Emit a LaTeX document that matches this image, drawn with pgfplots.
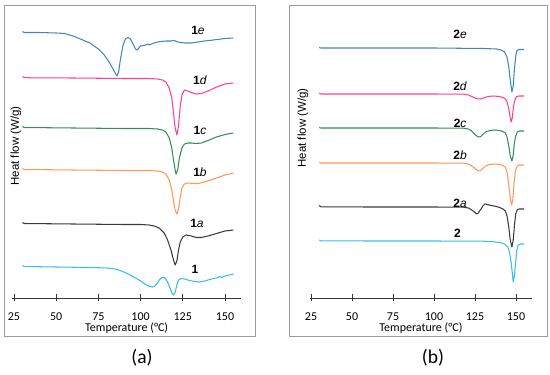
\documentclass[border=0pt]{standalone}
\usepackage{pgfplots}
\pgfplotsset{compat=1.18}
\usepackage{fontspec}
\setmainfont{Carlito}
\newfontfamily\arialf{Liberation Sans}
\definecolor{cblue}{HTML}{3F86C0}
\definecolor{cpink}{HTML}{FF3F93}
\definecolor{cgreen}{HTML}{2F8F55}
\definecolor{corange}{HTML}{FF965A}
\definecolor{cblack}{HTML}{3A3A3A}
\definecolor{ccyan}{HTML}{35BDEF}
\definecolor{cframe}{HTML}{9A9A9A}
\pgfplotsset{dsc/.style={
  scale only axis, axis x line*=bottom, axis y line=none,
  ymin=0, ymax=293, height=293pt,
  xtick={25,50,...,150},
  tick align=center, major tick length=7pt,
  every tick/.style={line width=0.9pt, color=black!80},
  x axis line style={line width=0.9pt, black!80},
  tick label style={font=\fontsize{12}{14}\selectfont},
  /pgf/number format/assume math mode=true,
  xticklabel style={anchor=center, yshift=-15.5pt},
  xlabel={Temperature (°C)},
  xlabel style={font=\fontsize{12}{14}\selectfont, at={(axis description cs:0.5,0)}, anchor=center, yshift=-30.5pt},
  every axis plot/.append style={line width=1.05pt, no marks, line join=round},
  clip=false
}}
\newcommand{\lab}[3]{\node[font=\arialf\fontsize{12}{14}\selectfont] at (axis cs:#1,#2) {#3};}
\begin{document}
\begin{tikzpicture}
\useasboundingbox (0pt,0pt) rectangle (550pt,375pt);
\draw[cframe, line width=0.8pt] (4pt,39pt) rectangle (255pt,370pt);
\draw[cframe, line width=0.8pt] (289pt,39pt) rectangle (547pt,370pt);
\node[rotate=90, font=\arialf\fontsize{11.5}{13}\selectfont] at (16pt,229pt) {Heat flow (W/g)};
\node[rotate=90, font=\arialf\fontsize{11.5}{13}\selectfont] at (303pt,247pt) {Heat flow (W/g)};
\node[font=\fontsize{19.5}{22}\selectfont] at (142pt,17pt) {(a)};
\node[font=\fontsize{19.5}{22}\selectfont] at (433pt,17pt) {(b)};
% ---------------- panel (a)
\begin{axis}[dsc, at={(12.3pt,77pt)}, anchor=south west, xmin=24, xmax=159.5, width=228.7pt]
\addplot[cblue] coordinates {(30,266.5)(31,265.5)(33,265.5)(40,265.5)(50,265)(55,264.5)(60,262)(65,258.5)(70,255)(75,249)(78,244)(81,237)(83,231)(85,225)(86,222)(87,226)(88,238)(89.5,252)(91,259)(92.5,260.5)(94,259)(95.5,254)(97,249)(98,248)(99,250)(100,252)(103,253)(104,253.8)(105,253)(108,255)(110,256)(112,256.5)(115,257)(118,257)(120,257.5)(122,256)(126,255)(130,255)(134,256)(138,257)(143,258)(150,259.5)(155,260)};
\addplot[cpink] coordinates {(30,221.5)(31,220.5)(35,220.2)(60,220)(90,219.5)(105,219.5)(110,219)(113,218)(115,216)(117,210)(118.5,200)(119.5,185)(120.5,170)(121.5,163)(122.5,172)(123.5,192)(124.5,203)(126,208)(128,207)(130,205.5)(133,204)(136,204.5)(140,207)(145,211)(150,214)(155,215)};
\addplot[cgreen] coordinates {(30,171.5)(31,170.5)(60,170)(90,169.5)(105,169.5)(110,169)(113,168)(115,166)(117,160)(118.5,150)(119.5,138)(120.5,128)(121,124)(122,128)(123,140)(124.5,150)(126,154)(128,155)(130,155)(133,154.5)(136,155)(140,157.5)(145,161)(150,163.5)(155,165)};
\addplot[corange] coordinates {(30,129.5)(31,128.5)(60,128)(90,127.5)(105,127.5)(110,127)(113,126)(115,124)(117,118)(118.5,108)(119.5,97)(120.5,88)(121.5,84)(122.5,89)(123.5,101)(124.5,110)(126,114)(128,115)(131,114.5)(134,114.5)(138,116)(145,120)(150,123)(155,125)};
\addplot[cblack] coordinates {(30,75.5)(31,74.5)(60,74)(90,73.5)(100,73.5)(105,73)(108,72)(111,70)(114,65)(116,58)(118,48)(119.5,38)(120.5,33)(121.5,37)(122.5,48)(123.5,56)(125,61)(127,63)(130,62)(133,60.5)(136,60.5)(140,62)(145,64.5)(150,67)(155,68)};
\addplot[ccyan] coordinates {(30,32.5)(31,31.5)(50,31)(70,30.5)(80,30)(85,29)(88,27.5)(92,24.5)(96,21)(100,17)(103,13.5)(105.5,11.5)(107,11)(108.5,12)(110,15)(111.5,19)(113,21)(114.5,20)(116,16)(117.5,10)(118.5,5)(119.5,3)(120.5,6)(121.5,13)(122.5,18)(124,19.5)(126,19)(129,17.5)(132,16.5)(135,16)(138,17)(142,19)(146,20.5)(147,21.5)(148,20.5)(150,22)(155,24)};
\lab{134}{268}{\textbf{1}\textit{e}}
\lab{135.2}{218}{\textbf{1}\textit{d}}
\lab{135.2}{168}{\textbf{1}\textit{c}}
\lab{135.2}{126}{\textbf{1}\textit{b}}
\lab{133.4}{75}{\textbf{1}\textit{a}}
\lab{132.2}{29}{\textbf{1}}
\end{axis}
% ---------------- panel (b)
\begin{axis}[dsc, at={(310.2pt,77pt)}, anchor=south west, xmin=24.5, xmax=159.5, width=221.4pt]
\addplot[cblue] coordinates {(30,250.5)(31,250)(60,250)(100,250)(130,249.5)(138,249)(141,248)(143,246)(144.5,241)(145.5,232)(146.5,218)(147.5,206)(148.3,212)(149,228)(149.8,242)(150.5,247)(151.5,248.5)(153,248.5)(155,248.5)};
\addplot[cpink] coordinates {(30,205)(31,204)(60,204)(100,204)(118,203.8)(121,203)(123,201.5)(125,200)(126.5,199.2)(128,199)(129.5,199.5)(131,200.5)(133,201.5)(136,202)(140,201.5)(142,200.5)(143.5,199)(144.5,196)(145.5,190)(146.3,182)(147,176)(147.7,180)(148.5,192)(149.5,199)(150.5,201.5)(152,202)(155,202)};
\addplot[cgreen] coordinates {(30,170.5)(31,170)(100,170)(118,169.8)(121,169)(123,167)(125,163.5)(126.5,161.5)(127.5,161)(128.5,161.5)(130,164)(132,166.5)(134,167.5)(137,168)(140,167.5)(142,166.5)(143.5,165)(144.5,161)(145.5,153)(146.5,142)(147.5,137)(148.3,143)(149,155)(149.8,162)(150.8,166)(152,167)(155,167)};
\addplot[corange] coordinates {(30,135.5)(31,135)(100,135)(118,134.8)(121,134)(123,132)(125,129.5)(126.5,127.5)(127.5,127)(128.5,127.5)(130,130)(132,132.5)(134,133.5)(137,134)(140,133.5)(142,132.5)(143.5,131)(144.5,126)(145.5,114)(146.5,100)(147.3,93)(148,98)(148.8,115)(149.7,128)(150.7,132)(152,133)(155,133)};
\addplot[cblack] coordinates {(30,92.5)(31,91.2)(60,91)(100,91)(118,90.8)(121,90)(123,88)(125,85.5)(126,84)(127,85)(128.5,88.5)(130,92.5)(131,94)(132.5,93.5)(135,92.5)(138,91.5)(140,90.5)(142,89)(143.5,87)(144.5,82)(145.5,72)(146.5,58)(147.5,51)(148.3,58)(149,72)(149.8,84)(150.8,88.5)(152,89)(155,89)};
\addplot[ccyan] coordinates {(30,58)(31,57.2)(60,57)(100,57)(130,56.8)(136,56.3)(140,55.5)(143,54)(145,51)(146,46)(147,36)(147.8,24)(148.3,16)(149,22)(149.8,36)(150.5,48)(151.3,53)(152.5,54)(155,54)};
\lab{115.9}{264}{\textbf{2}\textit{e}}
\lab{115.9}{212}{\textbf{2}\textit{d}}
\lab{115.9}{175}{\textbf{2}\textit{c}}
\lab{115.9}{143}{\textbf{2}\textit{b}}
\lab{115.9}{95}{\textbf{2}\textit{a}}
\lab{114.3}{65}{\textbf{2}}
\end{axis}
\end{tikzpicture}
\end{document}
